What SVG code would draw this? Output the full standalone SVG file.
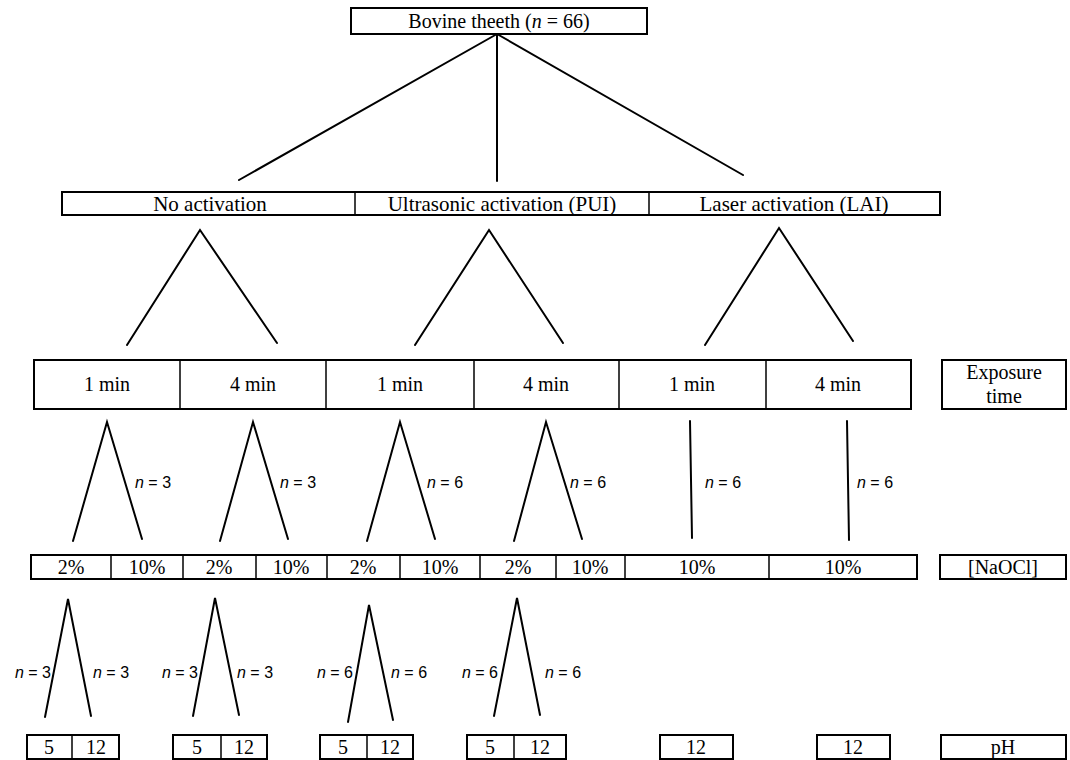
<svg xmlns="http://www.w3.org/2000/svg" width="1070" height="760" viewBox="0 0 1070 760">
<style>
.box{fill:#fff;stroke:#000;stroke-width:2}
.div{stroke:#000;stroke-width:1.5}
.ln{stroke:#000;stroke-width:2;fill:none;stroke-linecap:round}
.t{font-family:"Liberation Serif","Times New Roman",serif;font-size:20px;text-anchor:middle;fill:#000}
.t2{font-size:21px}
.n{font-family:"Liberation Sans",Arial,sans-serif;font-size:16px;fill:#000}
</style>
<rect width="1070" height="760" fill="#fff"/>
<g id="connectors">
<line class="ln" x1="497" y1="34" x2="239" y2="180"/>
<line class="ln" x1="497" y1="34" x2="497" y2="181"/>
<line class="ln" x1="497" y1="34" x2="743" y2="175"/>
<polyline class="ln" points="127,345 200,230 277,343"/>
<polyline class="ln" points="415,345 489,230 563,343"/>
<polyline class="ln" points="705,345 779,228 853,341"/>
<polyline class="ln" points="73,541 107,422 142,539"/>
<polyline class="ln" points="220,541 253,422 288,539"/>
<polyline class="ln" points="367,541 400,422 435,539"/>
<polyline class="ln" points="514,541 546,422 582,539"/>
<line class="ln" x1="690" y1="421" x2="692" y2="538"/>
<line class="ln" x1="847" y1="421" x2="849" y2="540"/>
<polyline class="ln" points="45,717 68,599 91,716"/>
<polyline class="ln" points="193,716 215,598 239,715"/>
<polyline class="ln" points="348,722 369,605 393,720"/>
<polyline class="ln" points="494,716 517,598 540,715"/>
<text class="n" x="135" y="488"><tspan font-style="italic">n</tspan> = 3</text>
<text class="n" x="280" y="488"><tspan font-style="italic">n</tspan> = 3</text>
<text class="n" x="427" y="488"><tspan font-style="italic">n</tspan> = 6</text>
<text class="n" x="570" y="488"><tspan font-style="italic">n</tspan> = 6</text>
<text class="n" x="705" y="488"><tspan font-style="italic">n</tspan> = 6</text>
<text class="n" x="857" y="488"><tspan font-style="italic">n</tspan> = 6</text>
<text class="n" x="51" y="678" text-anchor="end"><tspan font-style="italic">n</tspan> = 3</text>
<text class="n" x="93" y="678"><tspan font-style="italic">n</tspan> = 3</text>
<text class="n" x="198" y="678" text-anchor="end"><tspan font-style="italic">n</tspan> = 3</text>
<text class="n" x="237" y="678"><tspan font-style="italic">n</tspan> = 3</text>
<text class="n" x="353" y="678" text-anchor="end"><tspan font-style="italic">n</tspan> = 6</text>
<text class="n" x="391" y="678"><tspan font-style="italic">n</tspan> = 6</text>
<text class="n" x="498" y="678" text-anchor="end"><tspan font-style="italic">n</tspan> = 6</text>
<text class="n" x="545" y="678"><tspan font-style="italic">n</tspan> = 6</text>
</g>
<g id="root">
<rect class="box" x="351" y="8" width="296" height="26"/>
<text class="t" x="499" y="28">Bovine theeth (<tspan font-style="italic">n</tspan> = 66)</text>
</g>
<g id="activation">
<rect class="box" x="62" y="192" width="878" height="23"/>
<line class="div" x1="355" y1="192" x2="355" y2="215"/>
<line class="div" x1="649" y1="192" x2="649" y2="215"/>
<text class="t t2" x="210" y="211">No activation</text>
<text class="t t2" x="502" y="211">Ultrasonic activation (PUI)</text>
<text class="t t2" x="794" y="211">Laser activation (LAI)</text>
</g>
<g id="exposure">
<rect class="box" x="34" y="360" width="877" height="49"/>
<line class="div" x1="180" y1="360" x2="180" y2="409"/>
<line class="div" x1="326" y1="360" x2="326" y2="409"/>
<line class="div" x1="474" y1="360" x2="474" y2="409"/>
<line class="div" x1="619" y1="360" x2="619" y2="409"/>
<line class="div" x1="766" y1="360" x2="766" y2="409"/>
<text class="t" x="107" y="391">1 min</text>
<text class="t" x="253" y="391">4 min</text>
<text class="t" x="400" y="391">1 min</text>
<text class="t" x="546" y="391">4 min</text>
<text class="t" x="692" y="391">1 min</text>
<text class="t" x="838" y="391">4 min</text>
</g>
<g id="exposure-label">
<rect class="box" x="942" y="360" width="124" height="49"/>
<text class="t" x="1004" y="379">Exposure</text>
<text class="t" x="1004" y="403">time</text>
</g>
<g id="naocl">
<rect class="box" x="31" y="555" width="886" height="24"/>
<line class="div" x1="111" y1="555" x2="111" y2="579"/>
<line class="div" x1="183" y1="555" x2="183" y2="579"/>
<line class="div" x1="256" y1="555" x2="256" y2="579"/>
<line class="div" x1="327" y1="555" x2="327" y2="579"/>
<line class="div" x1="400" y1="555" x2="400" y2="579"/>
<line class="div" x1="480" y1="555" x2="480" y2="579"/>
<line class="div" x1="556" y1="555" x2="556" y2="579"/>
<line class="div" x1="625" y1="555" x2="625" y2="579"/>
<line class="div" x1="769" y1="555" x2="769" y2="579"/>
<text class="t" x="71" y="574">2%</text>
<text class="t" x="147" y="574">10%</text>
<text class="t" x="219" y="574">2%</text>
<text class="t" x="291" y="574">10%</text>
<text class="t" x="363" y="574">2%</text>
<text class="t" x="440" y="574">10%</text>
<text class="t" x="518" y="574">2%</text>
<text class="t" x="590" y="574">10%</text>
<text class="t" x="697" y="574">10%</text>
<text class="t" x="843" y="574">10%</text>
</g>
<g id="naocl-label">
<rect class="box" x="940" y="555" width="126" height="24"/>
<text class="t" x="1003" y="574">[NaOCl]</text>
</g>
<g id="ph1">
<rect class="box" x="27" y="735" width="92" height="24"/>
<line class="div" x1="72" y1="735" x2="72" y2="759"/>
<text class="t" x="49" y="754">5</text>
<text class="t" x="96" y="754">12</text>
</g>
<g id="ph2">
<rect class="box" x="173" y="735" width="94" height="24"/>
<line class="div" x1="221" y1="735" x2="221" y2="759"/>
<text class="t" x="197" y="754">5</text>
<text class="t" x="244" y="754">12</text>
</g>
<g id="ph3">
<rect class="box" x="320" y="735" width="93" height="24"/>
<line class="div" x1="367" y1="735" x2="367" y2="759"/>
<text class="t" x="343" y="754">5</text>
<text class="t" x="390" y="754">12</text>
</g>
<g id="ph4">
<rect class="box" x="467" y="735" width="99" height="24"/>
<line class="div" x1="514" y1="735" x2="514" y2="759"/>
<text class="t" x="490" y="754">5</text>
<text class="t" x="540" y="754">12</text>
</g>
<g id="ph5">
<rect class="box" x="660" y="735" width="73" height="24"/>
<text class="t" x="696" y="754">12</text>
</g>
<g id="ph6">
<rect class="box" x="817" y="735" width="73" height="24"/>
<text class="t" x="853" y="754">12</text>
</g>
<g id="ph-label">
<rect class="box" x="941" y="735" width="125" height="24"/>
<text class="t" x="1003" y="754">pH</text>
</g>
</svg>
